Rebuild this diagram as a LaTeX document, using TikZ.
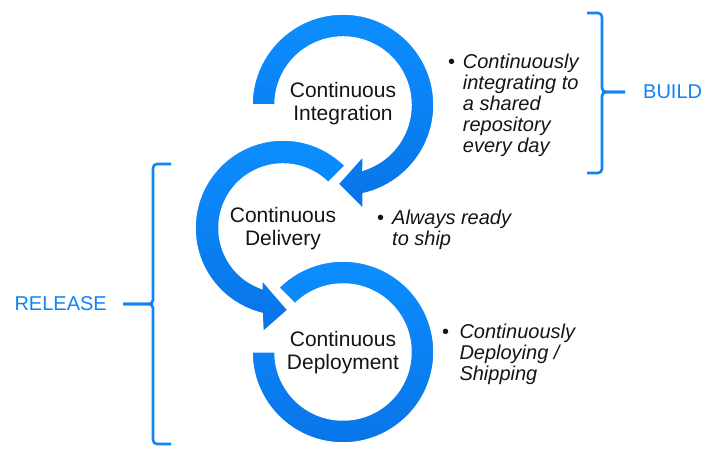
\documentclass[tikz,border=0pt]{standalone}
\usepackage{fontspec}
\setmainfont{Liberation Sans}
\usetikzlibrary{calc}
\definecolor{ringtop}{RGB}{12,142,255}
\definecolor{ringbot}{RGB}{8,116,232}
\definecolor{bracecol}{RGB}{16,132,245}
\definecolor{txt}{RGB}{20,20,20}
\begin{document}
\begin{tikzpicture}[x=1pt,y=1pt,
  ring/.style={top color=ringtop,bottom color=ringbot,draw=white,line width=1.5pt},
  lbl/.style={font=\fontsize{21}{23}\selectfont,align=center,inner sep=0,text=txt},
  note/.style={font=\fontsize{20}{21}\selectfont\itshape,align=left,inner sep=0,anchor=north west,text=txt},
  dot/.style={font=\fontsize{20}{21}\selectfont,inner sep=0,anchor=base,text=txt},
  bracket/.style={draw=bracecol,line width=2.6pt,rounded corners=4pt},
  side/.style={font=\fontsize{20}{23}\selectfont,text=bracecol,inner sep=0}]
\useasboundingbox (0,0) rectangle (709,460);

\coordinate (c1) at (343,355);
\coordinate (c2) at (283,232);
\coordinate (c3) at (343,108);

% ring 1: Integration
\path[ring] ($(c1)+(180:91)$) arc[start angle=180,end angle=-77.3,radius=91]
  -- ($(c1)+(20,-104)$) -- ($(c1)+(-5,-79)$) -- ($(c1)+(20,-51)$)
  -- ($(c1)+(-72.9:68)$) arc[start angle=-72.9,end angle=180,radius=68] -- cycle;

% ring 2: Delivery
\path[ring] ($(c2)+(45:88)$) arc[start angle=45,end angle=256.2,radius=88]
  -- ($(c2)+(-20,-104)$) -- ($(c2)+(5,-82)$) -- ($(c2)+(-21,-52)$)
  -- ($(c2)+(250.8:64)$) arc[start angle=250.8,end angle=45,radius=64] -- cycle;

% ring 3: Deployment
\path[ring] ($(c3)+(135:91)$) arc[start angle=135,end angle=-180,radius=91]
  -- ($(c3)+(180:68)$) arc[start angle=180,end angle=495,radius=68] -- cycle;

\node[lbl] (ci) at (343,356.5) {Continuous\\Integration};
\node[lbl] (cdl) at (283,231.5) {Continuous\\Delivery};
\node[lbl] (cdp) at (343,107) {Continuous\\Deployment};

\node[dot] (b1) at (451.7,391.7) {•};
\node[note] (n1) at (462.7,406.6) {Continuously\\integrating to\\a shared\\repository\\every day};
\node[dot] (b2) at (380.7,235.7) {•};
\node[note] (n2) at (392,250) {Always ready\\to ship};
\node[dot] (b3) at (445.7,121.7) {•};
\node[note] (n3) at (459.3,136) {Continuously\\Deploying /\\Shipping};

% BUILD brace
\coordinate (bm) at (602,368);
\coordinate (bt) at (625,368);
\draw[bracket] (587,447) -| (bm) -- (bt);
\draw[bracket] (587,287) -| (bm) -- (bt);
\node[side,anchor=west] (build) at (643,368) {BUILD};

% RELEASE brace
\coordinate (rm) at (153,156);
\coordinate (rt) at (123,156);
\draw[bracket] (171,296) -| (rm) -- (rt);
\draw[bracket] (171,16) -| (rm) -- (rt);
\node[side,anchor=east] (release) at (107,156) {RELEASE};
\end{tikzpicture}
\end{document}
